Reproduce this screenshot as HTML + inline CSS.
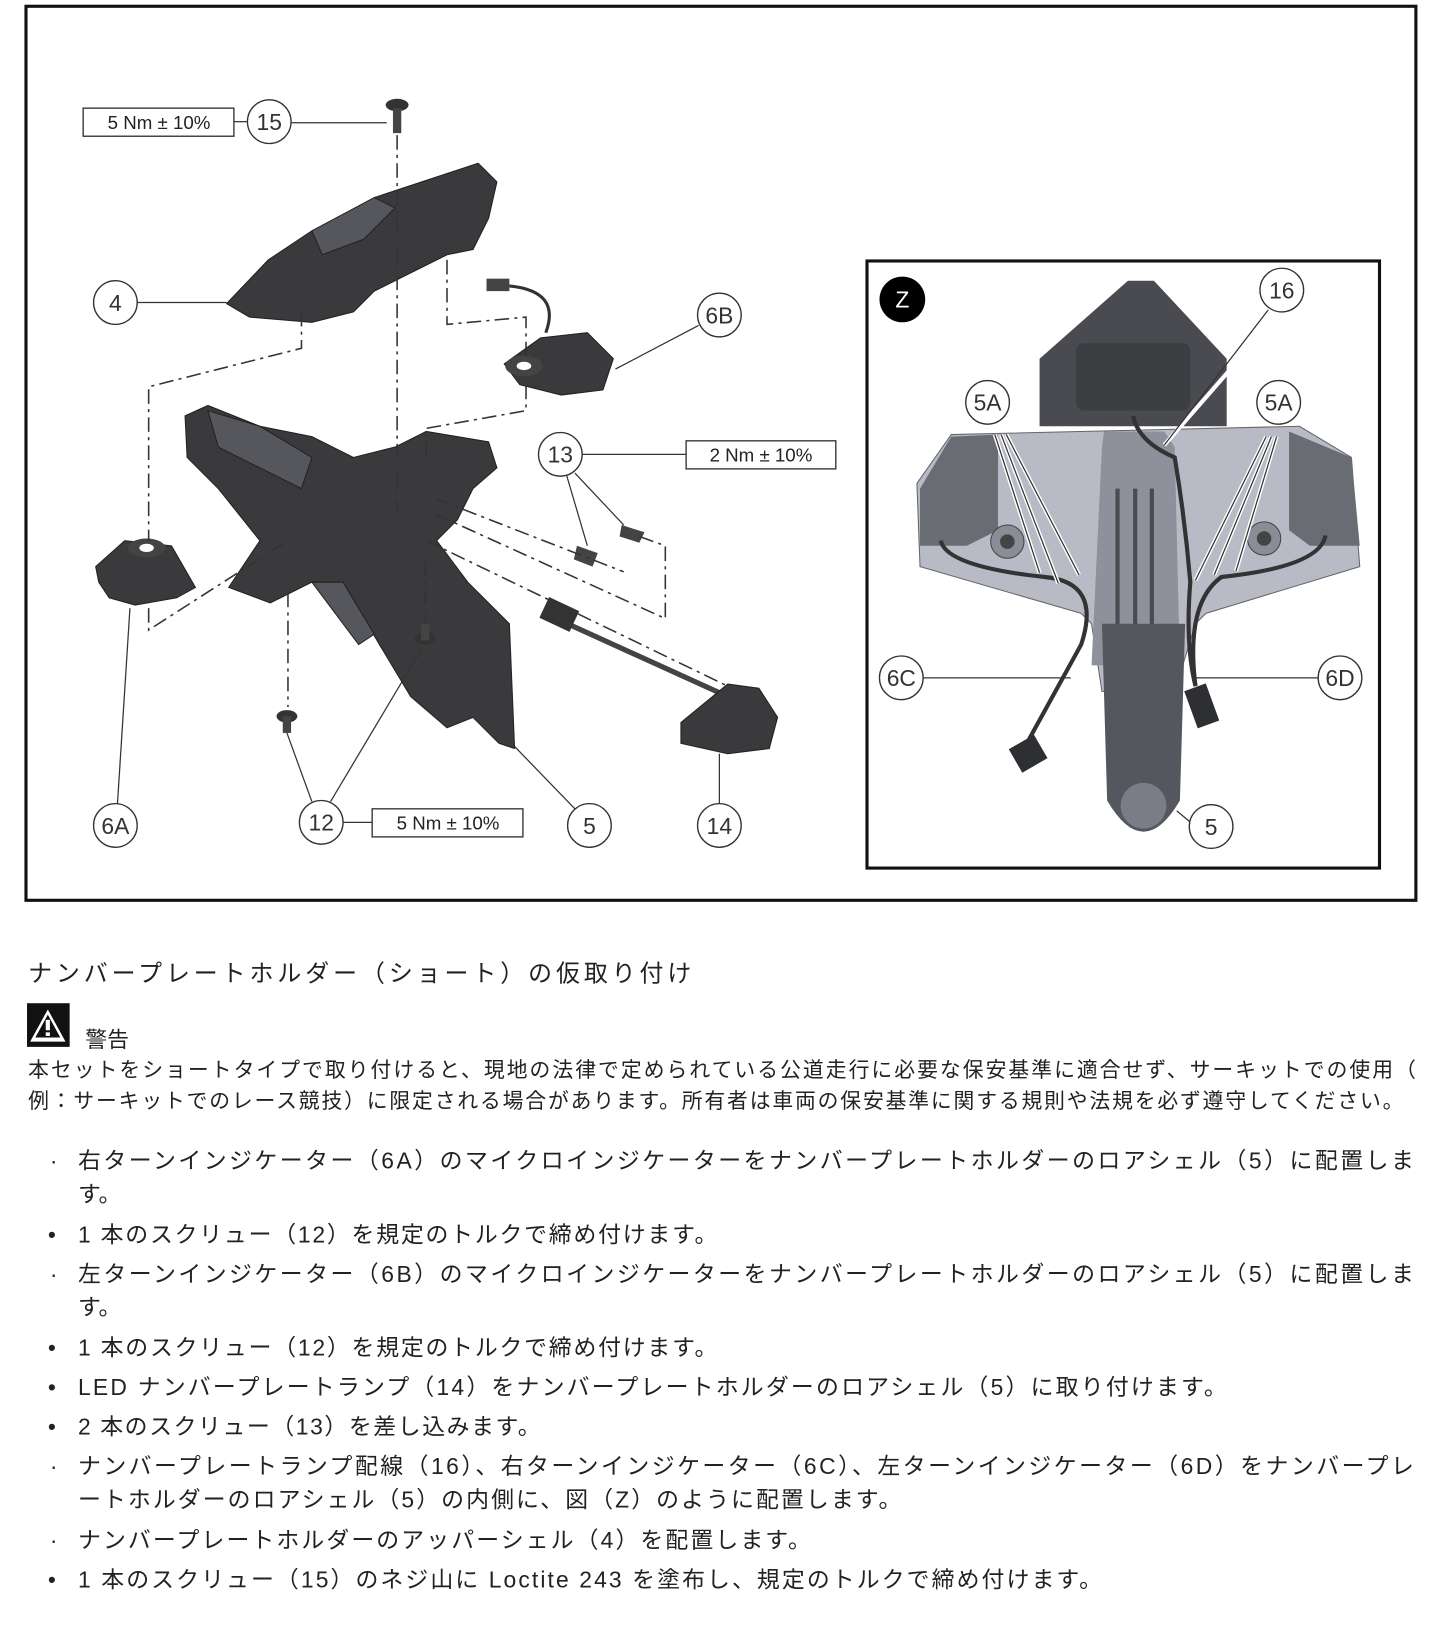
<!DOCTYPE html>
<html><head><meta charset="utf-8"><style>
html,body{margin:0;padding:0;background:#fff}
svg{display:block}
.t{font-family:"Liberation Sans","Noto Sans CJK JP",sans-serif;fill:#222}
.c{fill:#fff;stroke:#333;stroke-width:1.3}
.cl{font-family:"Liberation Sans",sans-serif;font-size:22px;fill:#333;text-anchor:middle}
.ln{stroke:#333;stroke-width:1.2;fill:none}
.ds{stroke:#333;stroke-width:1.5;fill:none;stroke-dasharray:14 5 3 5}
.p{fill:#3a3a3d;stroke:#222;stroke-width:1}
.pl{fill:#55575c;stroke:#222;stroke-width:1}
.bx{fill:#fff;stroke:#333;stroke-width:1.3}
.bt{font-family:"Liberation Sans",sans-serif;font-size:18px;fill:#222;text-anchor:middle}
</style></head><body>
<svg width="1445" height="1627" viewBox="0 0 1390 1565" xmlns="http://www.w3.org/2000/svg">
<rect x="0" y="0" width="1390" height="1565" fill="#fff"/>
<rect x="25" y="6" width="1337" height="860" fill="none" stroke="#111" stroke-width="3"/>

<polygon class="p" points="218,292 258,250 300,222 330,215 360,190 460,157 478,175 470,210 455,240 430,245 390,265 360,280 340,300 300,310 240,305"/>
<polygon class="pl" points="300,222 360,190 380,200 350,230 310,245"/>
<ellipse cx="382" cy="101" rx="11" ry="6" fill="#333"/>
<rect x="378" y="104" width="8" height="24" fill="#444"/>
<polygon class="p" points="485,350 520,325 565,320 590,345 580,375 540,380 500,370"/>
<ellipse cx="504" cy="352" rx="18" ry="10" fill="#444"/>
<ellipse cx="504" cy="352" rx="7" ry="4" fill="#fff"/>
<path d="M490,275 Q540,280 525,320" stroke="#333" stroke-width="3" fill="none"/>
<rect x="468" y="268" width="22" height="12" fill="#444"/>
<polygon class="p" points="178,400 200,390 250,410 300,420 340,440 380,430 410,415 470,425 478,450 455,470 440,500 420,520 450,560 490,600 495,720 480,715 455,690 430,700 395,670 365,620 330,560 300,560 260,580 220,565 250,520 210,470 180,440"/>
<polygon class="pl" points="200,395 250,410 300,440 290,470 250,450 210,430"/>
<polygon class="pl" points="300,560 330,560 360,610 345,620"/>
<polygon class="p" points="92,545 120,520 165,525 188,565 170,575 130,582 105,575 95,560"/>
<ellipse cx="141" cy="527" rx="18" ry="9" fill="#444"/>
<ellipse cx="141" cy="527" rx="7" ry="4" fill="#fff"/>
<ellipse cx="276" cy="689" rx="10" ry="6" fill="#333"/><rect x="272" y="689" width="8" height="16" fill="#444"/>
<ellipse cx="409" cy="614" rx="10" ry="6" fill="#333"/><rect x="405" y="600" width="8" height="16" fill="#444"/>
<polygon fill="#444" points="555,525 575,532 570,545 552,538"/>
<polygon fill="#444" points="598,505 620,512 615,522 596,516"/>
<line x1="535" y1="595" x2="700" y2="670" stroke="#444" stroke-width="5"/>
<rect x="522" y="580" width="32" height="22" fill="#333" transform="rotate(25 538 591)"/>
<polygon class="p" points="655,695 700,658 730,662 748,690 740,720 700,725 655,715"/>
<line class="ds" x1="382" y1="130" x2="382" y2="500"/>
<polyline class="ds" points="290,300 290,335 143,372 143,520"/>
<polyline class="ds" points="430,250 430,312 506,305 506,345"/>
<polyline class="ds" points="506,370 506,395 410,412 410,440"/>
<polyline class="ds" points="143,585 143,606 277,520"/>
<line class="ds" x1="277" y1="570" x2="277" y2="680"/>
<line class="ds" x1="409" y1="540" x2="409" y2="600"/>
<polyline class="ds" points="420,495 640,595 640,525 615,516"/>
<polyline class="ds" points="420,480 600,550"/>
<polyline class="ds" points="410,520 700,660"/>
<rect class="bx" x="80" y="104" width="145" height="27"/><text class="bt" x="153" y="124">5 Nm ± 10%</text>
<line class="ln" x1="225" y1="117" x2="238" y2="117"/>
<circle class="c" cx="259" cy="117" r="21"/><text class="cl" x="259" y="125">15</text>
<line class="ln" x1="280" y1="118" x2="372" y2="118"/>
<circle class="c" cx="111" cy="291" r="21"/><text class="cl" x="111" y="299">4</text>
<line class="ln" x1="132" y1="291" x2="218" y2="291"/>
<circle class="c" cx="692" cy="303" r="21"/><text class="cl" x="692" y="311">6B</text>
<line class="ln" x1="672" y1="313" x2="592" y2="355"/>
<circle class="c" cx="539" cy="437" r="21"/><text class="cl" x="539" y="445">13</text>
<line class="ln" x1="560" y1="437" x2="660" y2="437"/>
<rect class="bx" x="660" y="424" width="144" height="27"/><text class="bt" x="732" y="444">2 Nm ± 10%</text>
<line class="ln" x1="545" y1="457" x2="565" y2="525"/>
<line class="ln" x1="553" y1="455" x2="600" y2="505"/>
<circle class="c" cx="111" cy="794" r="21"/><text class="cl" x="111" y="802">6A</text>
<line class="ln" x1="113" y1="773" x2="125" y2="585"/>
<circle class="c" cx="309" cy="791" r="21"/><text class="cl" x="309" y="799">12</text>
<line class="ln" x1="300" y1="771" x2="276" y2="705"/>
<line class="ln" x1="318" y1="771" x2="405" y2="625"/>
<line class="ln" x1="330" y1="791" x2="358" y2="791"/>
<rect class="bx" x="358" y="778" width="145" height="27"/><text class="bt" x="431" y="798">5 Nm ± 10%</text>
<circle class="c" cx="567" cy="794" r="21"/><text class="cl" x="567" y="802">5</text>
<line class="ln" x1="553" y1="778" x2="495" y2="718"/>
<circle class="c" cx="692" cy="794" r="21"/><text class="cl" x="692" y="802">14</text>
<line class="ln" x1="692" y1="773" x2="692" y2="725"/>

<rect x="834" y="251" width="493" height="584" fill="#fff" stroke="#111" stroke-width="3"/>
<circle cx="868" cy="288" r="22" fill="#000"/>
<text x="868" y="296" font-family="Liberation Sans,sans-serif" font-size="22" fill="#fff" text-anchor="middle">Z</text>
<polygon fill="#4a4b50" points="1085,270 1110,270 1180,345 1180,410 1000,410 1000,345"/>
<rect x="1035" y="330" width="110" height="65" rx="8" fill="#3d3e42"/>
<polygon fill="#b8bac6" stroke="#666" points="915,418 1250,410 1300,440 1308,545 1160,590 1150,600 1130,665 1060,665 1050,600 1040,590 885,545 882,465"/>
<polygon fill="#6a6c74" points="885,470 915,420 960,418 960,510 930,525 885,525"/>
<polygon fill="#6a6c74" points="1240,415 1300,440 1308,525 1260,525 1240,510"/>
<polygon fill="#8e909c" points="1062,415 1120,415 1130,430 1135,640 1050,640 1060,430"/>
<line x1="1075" y1="470" x2="1075" y2="630" stroke="#4a4b50" stroke-width="4"/>
<line x1="1092" y1="470" x2="1092" y2="630" stroke="#4a4b50" stroke-width="4"/>
<line x1="1108" y1="470" x2="1108" y2="630" stroke="#4a4b50" stroke-width="4"/>
<circle cx="969" cy="521" r="16" fill="#8a8c96" stroke="#444"/><circle cx="969" cy="521" r="7" fill="#444"/>
<circle cx="1216" cy="518" r="16" fill="#8a8c96" stroke="#444"/><circle cx="1216" cy="518" r="7" fill="#444"/>
<path d="M1060,600 L1140,600 L1135,770 Q1100,830 1065,770 Z" fill="#55575e"/>
<circle cx="1100" cy="775" r="22" fill="#7a7c86"/>
<path d="M1090,400 Q1095,425 1130,440 Q1140,500 1145,560 Q1140,620 1150,660" stroke="#333" stroke-width="4" fill="none"/>
<path d="M905,520 Q910,545 1005,555 Q1060,560 1040,620 L985,720" stroke="#333" stroke-width="4" fill="none"/>
<path d="M1275,515 Q1270,545 1175,555 Q1140,580 1150,660" stroke="#333" stroke-width="4" fill="none"/>
<rect x="975" y="712" width="28" height="26" fill="#2e2f33" transform="rotate(-30 989 725)"/>
<rect x="1145" y="660" width="22" height="38" fill="#2e2f33" transform="rotate(-20 1156 679)"/>
<g stroke="#fff" stroke-width="4"><line x1="957" y1="418" x2="1000" y2="551"/><line x1="963" y1="418" x2="1018" y2="561"/><line x1="968" y1="418" x2="1038" y2="553"/>
<line x1="1218" y1="420" x2="1150" y2="558"/><line x1="1223" y1="420" x2="1168" y2="553"/><line x1="1228" y1="420" x2="1189" y2="549"/>
<line x1="1230" y1="302" x2="1120" y2="428"/></g>
<g class="ln"><line x1="957" y1="418" x2="1000" y2="551"/><line x1="963" y1="418" x2="1018" y2="561"/><line x1="968" y1="418" x2="1038" y2="553"/>
<line x1="1218" y1="420" x2="1150" y2="558"/><line x1="1223" y1="420" x2="1168" y2="553"/><line x1="1228" y1="420" x2="1189" y2="549"/>
<line x1="1220" y1="298" x2="1120" y2="428"/>
<line x1="888" y1="652" x2="1030" y2="652"/><line x1="1150" y1="652" x2="1268" y2="652"/><line x1="1150" y1="795" x2="1132" y2="780"/></g>
<circle class="c" cx="1233" cy="279" r="21"/><text class="cl" x="1233" y="287">16</text>
<circle class="c" cx="950" cy="387" r="21"/><text class="cl" x="950" y="395">5A</text>
<circle class="c" cx="1230" cy="387" r="21"/><text class="cl" x="1230" y="395">5A</text>
<circle class="c" cx="867" cy="652" r="21"/><text class="cl" x="867" y="660">6C</text>
<circle class="c" cx="1289" cy="652" r="21"/><text class="cl" x="1289" y="660">6D</text>
<circle class="c" cx="1165" cy="795" r="21"/><text class="cl" x="1165" y="803">5</text>

<text class="t" x="27" y="944" font-size="23" textLength="638" lengthAdjust="spacing">ナンバープレートホルダー（ショート）の仮取り付け</text>
<rect x="26" y="965" width="41" height="42" fill="#111"/>
<polygon points="46,971 63,1002 29,1002" fill="#fff"/>
<polygon points="46,976 58,998 34,998" fill="#111"/>
<rect x="44" y="981" width="4" height="10" fill="#fff"/><rect x="44" y="993" width="4" height="3.5" fill="#fff"/>
<text class="t" x="82" y="1007" font-size="21">警告</text>
<text class="t" x="27" y="1036" font-size="20" textLength="1335" lengthAdjust="spacing">本セットをショートタイプで取り付けると、現地の法律で定められている公道走行に必要な保安基準に適合せず、サーキットでの使用（</text>
<text class="t" x="27" y="1066" font-size="20" textLength="1323" lengthAdjust="spacing">例：サーキットでのレース競技）に限定される場合があります。所有者は車両の保安基準に関する規則や法規を必ず遵守してください。</text>
<g font-size="22">
<text class="t" x="48" y="1124">·</text>
<text class="t" x="75" y="1124" textLength="1285" lengthAdjust="spacing">右ターンインジケーター（6A）のマイクロインジケーターをナンバープレートホルダーのロアシェル（5）に配置しま</text>
<text class="t" x="75" y="1156">す。</text>
<text class="t" x="46" y="1195">•</text>
<text class="t" x="75" y="1195" textLength="615" lengthAdjust="spacing">1 本のスクリュー（12）を規定のトルクで締め付けます。</text>
<text class="t" x="48" y="1233">·</text>
<text class="t" x="75" y="1233" textLength="1285" lengthAdjust="spacing">左ターンインジケーター（6B）のマイクロインジケーターをナンバープレートホルダーのロアシェル（5）に配置しま</text>
<text class="t" x="75" y="1265">す。</text>
<text class="t" x="46" y="1304">•</text>
<text class="t" x="75" y="1304" textLength="615" lengthAdjust="spacing">1 本のスクリュー（12）を規定のトルクで締め付けます。</text>
<text class="t" x="46" y="1342">•</text>
<text class="t" x="75" y="1342" textLength="1105" lengthAdjust="spacing">LED ナンバープレートランプ（14）をナンバープレートホルダーのロアシェル（5）に取り付けます。</text>
<text class="t" x="46" y="1380">•</text>
<text class="t" x="75" y="1380" textLength="445" lengthAdjust="spacing">2 本のスクリュー（13）を差し込みます。</text>
<text class="t" x="48" y="1418">·</text>
<text class="t" x="75" y="1418" textLength="1285" lengthAdjust="spacing">ナンバープレートランプ配線（16）、右ターンインジケーター（6C）、左ターンインジケーター（6D）をナンバープレ</text>
<text class="t" x="75" y="1450" textLength="792" lengthAdjust="spacing">ートホルダーのロアシェル（5）の内側に、図（Z）のように配置します。</text>
<text class="t" x="48" y="1489">·</text>
<text class="t" x="75" y="1489" textLength="705" lengthAdjust="spacing">ナンバープレートホルダーのアッパーシェル（4）を配置します。</text>
<text class="t" x="46" y="1527">•</text>
<text class="t" x="75" y="1527" textLength="985" lengthAdjust="spacing">1 本のスクリュー（15）のネジ山に Loctite 243 を塗布し、規定のトルクで締め付けます。</text>
</g>
</svg>
</body></html>
